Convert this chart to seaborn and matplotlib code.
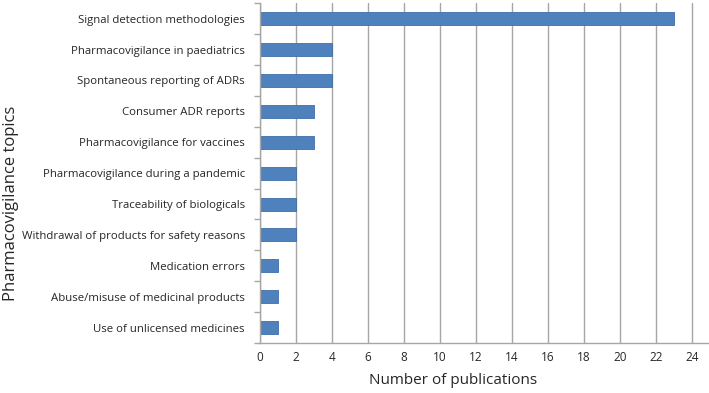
import matplotlib
matplotlib.use("Agg")
import matplotlib.pyplot as plt
import seaborn as sns
import pandas as pd
import numpy as np

topics = [
    "Signal detection methodologies",
    "Pharmacovigilance in paediatrics",
    "Spontaneous reporting of ADRs",
    "Consumer ADR reports",
    "Pharmacovigilance for vaccines",
    "Pharmacovigilance during a pandemic",
    "Traceability of biologicals",
    "Withdrawal of products for safety reasons",
    "Medication errors",
    "Abuse/misuse of medicinal products",
    "Use of unlicensed medicines",
]
publications = [23, 4, 4, 3, 3, 2, 2, 2, 1, 1, 1]
xticks = list(range(0, 25, 2))

df = pd.DataFrame({"topic": topics, "n": publications})

sns.set_style("white")
plt.rcParams["font.family"] = ["Open Sans", "DejaVu Sans"]

fig = plt.figure(figsize=(7.09, 3.93), dpi=100)
ax = fig.add_axes([0.367, 0.127, 0.633, 0.865])

sns.barplot(data=df, x="n", y="topic", orient="h", color="#4F81BD",
            saturation=1, width=0.42, edgecolor="#3F6FA8", linewidth=0.6, ax=ax)

ax.set_xlim(0, 24.95)
ax.set_xticks(xticks)
ax.set_xticklabels([str(t) for t in xticks], fontsize=8.5)
ax.tick_params(axis="x", length=0, pad=6)
ax.xaxis.grid(True, color="#A6A6A6", linewidth=1.0)
ax.set_axisbelow(True)
ax.set_ylim(len(topics) - 0.5, -0.5)
ax.tick_params(axis="y", which="major", length=0, labelsize=8.2, pad=11)
ax.set_yticks(np.arange(-0.5, len(topics), 1), minor=True)
ax.tick_params(axis="y", which="minor", left=True, length=4, width=1,
               color="#A6A6A6", direction="out")

for s in ["top", "right"]:
    ax.spines[s].set_visible(False)
for s in ["left", "bottom"]:
    ax.spines[s].set_color("#A6A6A6")
    ax.spines[s].set_linewidth(1.0)

ax.set_xlabel("Number of publications", fontsize=11)
ax.xaxis.set_label_coords(0.43, -0.088)
ax.set_ylabel("Pharmacovigilance topics", fontsize=12)
ax.yaxis.set_label_coords(-0.537, 0.41)

fig.savefig("out.png", dpi=100)
